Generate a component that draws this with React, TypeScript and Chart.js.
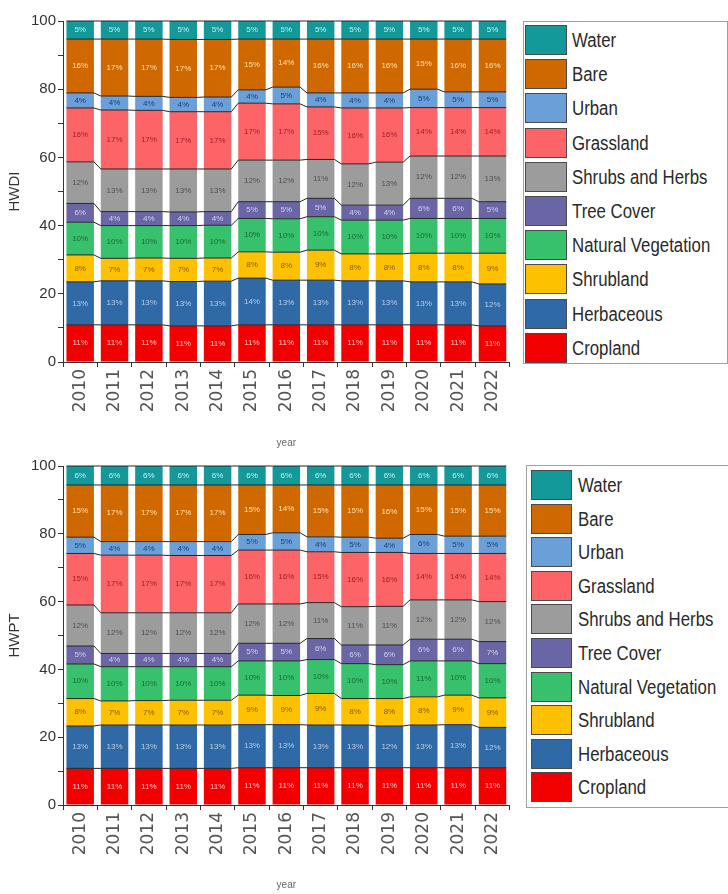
import React, { useEffect, useRef } from "react";
import { Chart, registerables } from "chart.js";

Chart.register(...registerables);

// ---------- data ----------
const YEARS = ["2010", "2011", "2012", "2013", "2014", "2015", "2016", "2017", "2018", "2019", "2020", "2021", "2022"];

const SERIES_NAMES = [
  "Cropland",
  "Herbaceous",
  "Shrubland",
  "Natural Vegetation",
  "Tree Cover",
  "Shrubs and Herbs",
  "Grassland",
  "Urban",
  "Bare",
  "Water",
];

const SERIES_COLORS = [
  "#f20000",
  "#2f69a6",
  "#fdc100",
  "#38c16c",
  "#6a66a6",
  "#9c9c9c",
  "#fd6468",
  "#6a9fd8",
  "#d06800",
  "#14999b",
];

const LABEL_COLORS = [
  "#ffc0c0",
  "#b8cde6",
  "#8a5a00",
  "#176b35",
  "#d2d0f0",
  "#505050",
  "#a32028",
  "#1d3f78",
  "#ffe0a8",
  "#c0f0f0",
];

const Y_TICKS = [0, 20, 40, 60, 80, 100];

// HWDI (top panel), percent of total
const HWDI_CROPLAND = [10.9, 10.9, 10.9, 10.6, 10.6, 10.9, 10.9, 10.9, 10.9, 10.9, 10.9, 10.9, 10.6];
const HWDI_HERBACEOUS = [12.6, 12.9, 12.9, 13.0, 13.1, 13.7, 13.1, 13.1, 12.9, 12.9, 12.6, 12.6, 12.3];
const HWDI_SHRUBLAND = [7.9, 6.6, 6.7, 6.8, 6.8, 7.7, 8.2, 8.8, 7.9, 7.9, 8.4, 8.4, 9.0];
const HWDI_NATURAL_VEG = [9.6, 9.6, 9.5, 9.6, 9.6, 9.8, 9.8, 9.8, 9.9, 9.9, 10.2, 10.2, 10.2];
const HWDI_TREE_COVER = [5.5, 4.1, 4.1, 4.0, 4.0, 4.9, 5.0, 5.4, 4.4, 4.4, 5.9, 5.9, 4.9];
const HWDI_SHRUBS_HERBS = [12.2, 12.5, 12.5, 12.6, 12.5, 12.2, 12.2, 11.4, 12.1, 12.6, 12.4, 12.4, 13.4];
const HWDI_GRASSLAND = [15.8, 17.3, 17.2, 16.8, 16.8, 16.7, 16.5, 15.4, 16.4, 15.9, 14.2, 14.2, 14.2];
const HWDI_URBAN = [4.4, 4.1, 4.1, 4.2, 4.3, 3.9, 4.9, 4.1, 4.4, 4.4, 5.4, 4.6, 4.6];
const HWDI_BARE = [15.8, 16.7, 16.8, 17.0, 16.9, 14.9, 14.1, 15.8, 15.8, 15.8, 14.7, 15.5, 15.5];
const HWDI_WATER = [5.3, 5.3, 5.3, 5.4, 5.4, 5.3, 5.3, 5.3, 5.3, 5.3, 5.3, 5.3, 5.3];

// HWPT (bottom panel), percent of total
const HWPT_CROPLAND = [10.8, 10.8, 10.8, 10.8, 10.8, 11.0, 11.0, 11.0, 11.0, 11.0, 11.0, 11.0, 11.0];
const HWPT_HERBACEOUS = [12.5, 12.8, 12.8, 12.8, 12.8, 12.7, 12.7, 12.6, 12.6, 12.3, 12.6, 12.7, 11.9];
const HWPT_SHRUBLAND = [8.1, 7.1, 7.2, 7.3, 7.3, 8.7, 8.6, 9.3, 7.8, 8.1, 8.3, 8.7, 8.7];
const HWPT_NATURAL_VEG = [10.2, 10.1, 10.0, 9.9, 9.9, 10.1, 10.2, 10.0, 10.3, 10.0, 10.6, 10.1, 10.1];
const HWPT_TREE_COVER = [5.3, 3.9, 3.9, 3.9, 3.9, 5.2, 5.2, 6.2, 5.5, 5.8, 6.4, 6.4, 6.5];
const HWPT_SHRUBS_HERBS = [12.1, 12.0, 12.0, 12.0, 12.0, 11.6, 11.6, 10.6, 11.3, 11.4, 11.6, 11.6, 11.8];
const HWPT_GRASSLAND = [15.2, 17.0, 17.0, 16.9, 16.9, 15.9, 15.9, 15.0, 16.0, 15.9, 13.7, 13.7, 14.2];
const HWPT_URBAN = [4.8, 4.0, 4.0, 4.1, 4.1, 4.6, 5.1, 4.4, 4.5, 4.2, 5.6, 5.1, 5.1];
const HWPT_BARE = [15.4, 16.7, 16.7, 16.7, 16.7, 14.6, 14.1, 15.3, 15.4, 15.7, 14.6, 15.1, 15.1];
const HWPT_WATER = [5.6, 5.6, 5.6, 5.6, 5.6, 5.6, 5.6, 5.6, 5.6, 5.6, 5.6, 5.6, 5.6];

const HWDI_SERIES = [
  HWDI_CROPLAND, HWDI_HERBACEOUS, HWDI_SHRUBLAND, HWDI_NATURAL_VEG, HWDI_TREE_COVER,
  HWDI_SHRUBS_HERBS, HWDI_GRASSLAND, HWDI_URBAN, HWDI_BARE, HWDI_WATER,
];
const HWPT_SERIES = [
  HWPT_CROPLAND, HWPT_HERBACEOUS, HWPT_SHRUBLAND, HWPT_NATURAL_VEG, HWPT_TREE_COVER,
  HWPT_SHRUBS_HERBS, HWPT_GRASSLAND, HWPT_URBAN, HWPT_BARE, HWPT_WATER,
];

const SANS = '"Liberation Sans", Arial, sans-serif';

// ---------- plugin: connecting lines, segment edges, value labels ----------
const segmentPlugin = {
  id: "segmentDecor",
  afterDatasetsDraw(chart: any) {
    const ctx = chart.ctx;
    ctx.save();
    ctx.strokeStyle = "#262626";
    ctx.lineWidth = 1;
    chart.data.datasets.forEach((_ds: any, di: number) => {
      const els = chart.getDatasetMeta(di).data;
      for (let i = 0; i < els.length; i++) {
        const a = els[i].getProps(["x", "y", "width"], true);
        ctx.beginPath();
        ctx.moveTo(a.x - a.width / 2, a.y);
        ctx.lineTo(a.x + a.width / 2, a.y);
        if (i < els.length - 1) {
          const b = els[i + 1].getProps(["x", "y", "width"], true);
          ctx.lineTo(b.x - b.width / 2, b.y);
        }
        ctx.stroke();
      }
    });
    ctx.font = `8px ${SANS}`;
    ctx.textAlign = "center";
    ctx.textBaseline = "middle";
    chart.data.datasets.forEach((ds: any, di: number) => {
      const els = chart.getDatasetMeta(di).data;
      ctx.fillStyle = LABEL_COLORS[di];
      els.forEach((el: any, i: number) => {
        const p = el.getProps(["x", "y", "base"], true);
        ctx.fillText(`${Math.round(ds.data[i])}%`, p.x, (p.y + p.base) / 2);
      });
    });
    ctx.restore();
  },
};

function makeConfig(series: number[][], yTitle: string, padTop: number, xHeight: number): any {
  return {
    type: "bar",
    data: {
      labels: YEARS,
      datasets: series.map((vals, i) => ({
        label: SERIES_NAMES[i],
        data: vals,
        backgroundColor: SERIES_COLORS[i],
        borderWidth: 0,
        barPercentage: 0.8,
        categoryPercentage: 1.0,
      })),
    },
    options: {
      responsive: false,
      animation: false,
      events: [],
      layout: { padding: { top: padTop, right: 3, left: 0, bottom: 0 } },
      plugins: { legend: { display: false }, tooltip: { enabled: false } },
      scales: {
        x: {
          stacked: true,
          offset: true,
          grid: { drawOnChartArea: false, tickLength: 5, color: "#333", tickColor: "#333" },
          border: { display: true, color: "#333", width: 1 },
          ticks: {
            minRotation: 90,
            maxRotation: 90,
            autoSkip: false,
            padding: 2,
            color: "#555",
            font: { family: '"DejaVu Sans", sans-serif', size: 17 },
          },
          title: {
            display: true,
            text: "year",
            color: "#666",
            font: { family: SANS, size: 10 },
            padding: { top: 0, bottom: 3 },
          },
          afterFit: (scale: any) => {
            scale.height = xHeight;
          },
        },
        y: {
          stacked: true,
          min: 0,
          max: 100,
          grid: { drawOnChartArea: false, tickLength: 5, color: "#333", tickColor: "#333" },
          border: { display: true, color: "#333", width: 1 },
          ticks: {
            stepSize: 10,
            padding: 2,
            color: "#333",
            font: { family: SANS, size: 15 },
            callback: (v: any) => (Y_TICKS.includes(Number(v)) ? String(v) : ""),
          },
          title: {
            display: true,
            text: yTitle,
            color: "#333",
            font: { family: SANS, size: 15 },
            padding: { top: 6, bottom: 0 },
          },
          afterFit: (scale: any) => {
            scale.width = 63;
          },
        },
      },
    },
    plugins: [segmentPlugin],
  };
}

function StackedChart({ series, yTitle, top, height, padTop, xHeight }: any) {
  const ref = useRef<HTMLCanvasElement | null>(null);
  useEffect(() => {
    if (!ref.current) return;
    const chart = new Chart(ref.current, makeConfig(series, yTitle, padTop, xHeight));
    return () => chart.destroy();
  }, []);
  return (
    <canvas
      ref={ref}
      width={515}
      height={height}
      style={{ position: "absolute", left: 0, top, width: 515, height }}
    />
  );
}

function Legend({ left, top, width, height, swLeft, swTop, swW, swH, pitch, textLeft }: any) {
  const order = SERIES_NAMES.map((n, i) => ({ n, c: SERIES_COLORS[i] })).reverse();
  return (
    <div
      style={{
        position: "absolute",
        left,
        top,
        width,
        height,
        border: "1px solid #a0a0a0",
        boxSizing: "border-box",
        background: "#fff",
      }}
    >
      {order.map((it, k) => (
        <React.Fragment key={it.n}>
          <div
            style={{
              position: "absolute",
              left: swLeft,
              top: swTop + k * pitch,
              width: swW,
              height: swH,
              background: it.c,
              border: "1px solid #4a4a4a",
              boxSizing: "border-box",
            }}
          />
          <div
            style={{
              position: "absolute",
              left: textLeft,
              top: swTop + k * pitch,
              height: swH,
              lineHeight: `${swH}px`,
              fontFamily: SANS,
              fontSize: 20,
              color: "#2a2a2a",
              whiteSpace: "nowrap",
              transform: "scaleX(0.84)",
              transformOrigin: "left center",
            }}
          >
            {it.n}
          </div>
        </React.Fragment>
      ))}
    </div>
  );
}

export default function App() {
  useEffect(() => {
    document.body.style.margin = "0";
    document.body.style.background = "#fff";
  }, []);
  return (
    <div style={{ position: "relative", width: 728, height: 894, overflow: "hidden", background: "#fff" }}>
      <StackedChart series={HWDI_SERIES} yTitle="HWDI" top={0} height={452} padTop={21} xHeight={90} />
      <StackedChart series={HWPT_SERIES} yTitle="HWPT" top={452} height={442} padTop={14} xHeight={89} />
      <Legend left={523} top={21} width={205} height={343} swLeft={1} swTop={3} swW={42} swH={30} pitch={34.2} textLeft={48} />
      <Legend left={526} top={465} width={215} height={343} swLeft={4} swTop={4} swW={41} swH={30} pitch={33.6} textLeft={51} />
    </div>
  );
}
